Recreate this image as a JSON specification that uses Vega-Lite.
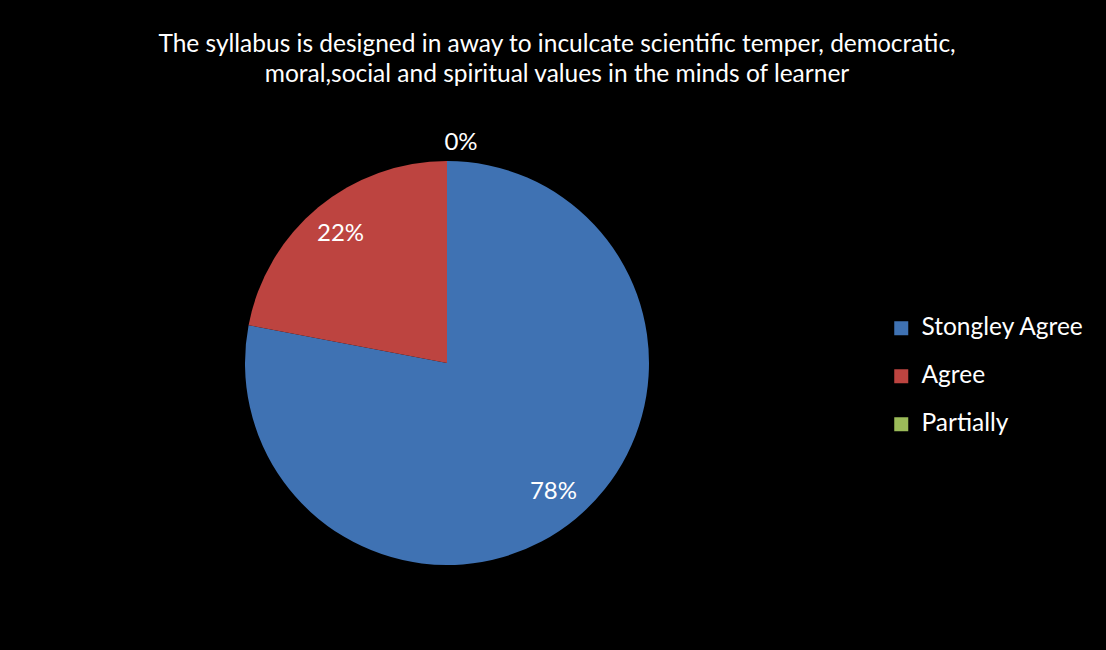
{
  "$schema": "https://vega.github.io/schema/vega-lite/v6.json",
  "width": 882,
  "height": 574,
  "autosize": {"type": "none"},
  "padding": {"left": 6, "top": 76, "right": 218, "bottom": 0},
  "background": "#000000",
  "title": {
    "text": ["The syllabus is designed in away to inculcate scientific temper, democratic,", "moral,social and spiritual values in the minds of learner"],
    "font": "Lato",
    "fontSize": 24.5,
    "fontWeight": "normal",
    "color": "#ffffff",
    "lineHeight": 30,
    "anchor": "middle",
    "frame": "group",
    "dx": 110,
    "offset": -11
  },
  "data": {
    "values": [
      {"category": "Stongley Agree", "value": 78, "label": "78%", "order": 1},
      {"category": "Agree", "value": 22, "label": "22%", "order": 2},
      {"category": "Partially", "value": 0, "label": "0%", "order": 3}
    ]
  },
  "encoding": {
    "theta": {"field": "value", "type": "quantitative", "stack": true},
    "order": {"field": "order", "type": "quantitative"},
    "color": {
      "field": "category",
      "type": "nominal",
      "sort": ["Stongley Agree", "Agree", "Partially"],
      "scale": {"domain": ["Stongley Agree", "Agree", "Partially"], "range": ["#3f72b3", "#bd4440", "#9bbb59"]},
      "legend": {
        "title": null,
        "orient": "none",
        "legendX": 883,
        "legendY": 240,
        "symbolType": "square",
        "symbolSize": 196,
        "symbolStrokeWidth": 0,
        "labelFont": "Lato",
        "labelFontSize": 24.5,
        "labelColor": "#ffffff",
        "labelOffset": 8,
        "rowPadding": 23,
        "labelLimit": 300
      }
    }
  },
  "layer": [
    {"mark": {"type": "arc", "outerRadius": 202, "stroke": null}},
    {
      "transform": [{"filter": "datum.value > 0"}],
      "mark": {"type": "text", "radius": 167, "font": "Lato", "fontSize": 24, "color": "#ffffff"},
      "encoding": {"text": {"field": "label"}, "color": {"value": "#ffffff"}, "detail": {"field": "category"}}
    },
    {
      "transform": [{"filter": "datum.value == 0"}],
      "mark": {"type": "text", "radius": 220, "dx": 14, "font": "Lato", "fontSize": 24, "color": "#ffffff"},
      "encoding": {"text": {"field": "label"}, "color": {"value": "#ffffff"}, "detail": {"field": "category"}}
    }
  ],
  "config": {"view": {"stroke": null}}
}
